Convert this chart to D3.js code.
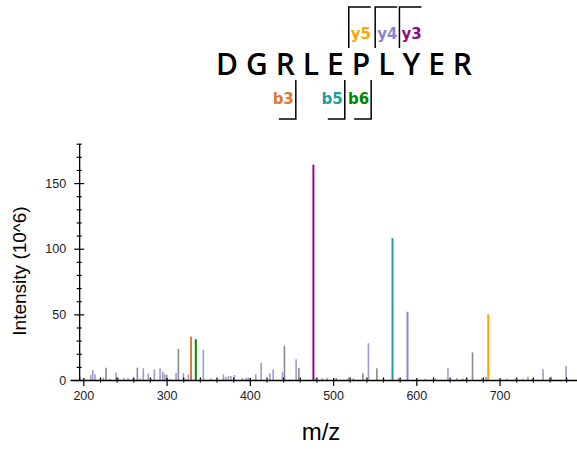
<!DOCTYPE html>
<html>
<head>
  <meta charset="utf-8">
  <script src="https://cdn.jsdelivr.net/npm/d3@7"></script>
  <style>
    body { margin: 0; background: #fff; }
    svg { display: block; }
  </style>
</head>
<body>
<script>
  // peptide and fragment annotations
  const sequence = "DGRLEPLYER";
  const fragNames = ["b3", "b5", "b6", "y5", "y4", "y3"];
  const fragCut = [3, 5, 6, 5, 6, 7];
  const fragColor = ["#dd7733", "#1f9e9e", "#008800", "#ffa500", "#8888c8", "#8b0a8b"];
  const fragMz = [329.4, 571.4, 335.1, 686.4, 589.4, 476.4];
  const fragIntensity = [33, 108, 31, 50, 52, 164];

  // unassigned peaks (m/z, intensity 10^6, kind: L = lavender, G = grey)
  const peakMz = [196, 208.9, 211.3, 214.1, 220.9, 224, 227.3, 232, 239.3, 242, 249, 253.7, 259.7,
    264.9, 268.1, 272.1, 278.1, 281.4, 285.3, 292.2, 295.4, 297.8, 300.2, 304.2, 311.4, 314.2,
    320.2, 323.4, 326.2, 344.2, 353.5, 368.3, 371.2, 374.3, 377.2, 381.5, 391.1, 395.6, 398.3,
    407.2, 413.6, 424, 428, 439.2, 441.6, 455.6, 458.9, 478.8, 486.9, 492.9, 503.7, 518.5, 524.5,
    535.8, 542.5, 552.6, 560.6, 578.6, 610.7, 622.7, 638, 648.8, 655.5, 659.6, 667.5, 678.8,
    683.7, 708.9, 718.9, 727.6, 734.1, 738.9, 752.2, 762.1, 779.8];
  const peakIntensity = [2.5, 3.8, 7.6, 4.3, 1.8, 1.8, 9.4, 1.0, 5.6, 2, 1.5, 1.5, 1.5,
    9.4, 1.2, 8.9, 5, 1.0, 8.1, 8.9, 6.4, 4.5, 3.8, 1, 5.6, 23.7,
    5.1, 1, 4.3, 22.9, 1.2, 4.3, 2.5, 3, 3, 3.8, 1.5, 1.8, 2,
    4.4, 13.2, 5.1, 8.1, 5.9, 26.2, 15.8, 9.4, 1, 1.3, 1.5, 1.5, 2, 1.3,
    5.1, 28, 8.9, 1, 1.5, 1, 1.5, 8.9, 1.5, 1.0, 1.2, 21, 1.5,
    2.3, 1, 1, 1, 2.5, 1, 8.1, 2.5, 10.7];
  const peakKind = ["L", "L", "L", "L", "L", "L", "G", "L", "L", "L", "L", "L", "L",
    "G", "L", "L", "L", "G", "L", "L", "L", "L", "G", "L", "L", "G",
    "L", "L", "L", "L", "L", "L", "L", "L", "L", "L", "L", "L", "L",
    "L", "L", "L", "L", "L", "G", "L", "G", "L", "L", "L", "G", "L", "L",
    "G", "L", "G", "L", "L", "L", "L", "L", "L", "G", "L", "G", "L",
    "L", "L", "L", "L", "L", "L", "L", "G", "L"];

  const xTicks = d3.range(200, 781, 20);
  const yTicks = d3.range(0, 181, 10);

  const w = 577;
  const h = 450;

  const svg = d3.select("body").append("svg")
    .attr("width", w)
    .attr("height", h);

  const x = d3.scaleLinear().domain([184, 793]).range([70, 577]);
  const y = d3.scaleLinear().domain([0, 180]).range([380, 143.7]);

  // peaks
  const kindColor = { L: "#9c9ccc", G: "#8a8a8a" };
  svg.append("g").selectAll("line")
    .data(peakMz)
    .join("line")
    .attr("x1", (d) => x(d)).attr("x2", (d) => x(d))
    .attr("y1", y(0))
    .attr("y2", (d, i) => y(peakIntensity[i]))
    .attr("stroke", (d, i) => kindColor[peakKind[i]])
    .attr("stroke-width", 1.6);

  svg.append("g").selectAll("line")
    .data(fragMz)
    .join("line")
    .attr("x1", (d) => x(d)).attr("x2", (d) => x(d))
    .attr("y1", y(0))
    .attr("y2", (d, i) => y(fragIntensity[i]))
    .attr("stroke", (d, i) => fragColor[i])
    .attr("stroke-width", 2);

  // x axis
  const xAxis = svg.append("g")
    .attr("transform", "translate(0," + y(0) + ")")
    .call(d3.axisBottom(x).tickValues(xTicks).tickSizeOuter(0)
      .tickFormat((d) => d % 100 === 0 ? d : ""));
  xAxis.select(".domain").attr("stroke-width", 1.3);
  xAxis.selectAll(".tick line")
    .attr("y1", (d) => d % 100 === 0 ? -2 : -2.5)
    .attr("y2", (d) => d % 100 === 0 ? 6 : 2.5)
    .attr("stroke-width", 1.2);
  xAxis.selectAll(".tick text")
    .attr("y", 11)
    .attr("font-family", "Liberation Sans, Arial, sans-serif")
    .attr("font-size", 12.5)
    .attr("fill", "#222");

  // y axis
  const yAxis = svg.append("g")
    .attr("transform", "translate(" + x(195) + ",0)")
    .call(d3.axisLeft(y).tickValues(yTicks).tickSizeOuter(0)
      .tickFormat((d) => d % 50 === 0 ? d : ""));
  yAxis.select(".domain").attr("stroke-width", 1.3);
  yAxis.selectAll(".tick line")
    .attr("x1", (d) => d % 50 === 0 ? -5 : -2.5)
    .attr("x2", (d) => d % 50 === 0 ? 5 : 2.5)
    .attr("stroke-width", 1.2);
  yAxis.selectAll(".tick text")
    .attr("x", -13)
    .attr("font-family", "Liberation Sans, Arial, sans-serif")
    .attr("font-size", 12.5)
    .attr("fill", "#222");

  // axis titles
  svg.append("text")
    .attr("transform", "translate(26,271) rotate(-90)")
    .attr("text-anchor", "middle")
    .attr("font-family", "Liberation Sans, Arial, sans-serif")
    .attr("font-size", 19)
    .text("Intensity (10^6)");

  svg.append("text")
    .attr("x", 321)
    .attr("y", 440)
    .attr("text-anchor", "middle")
    .attr("font-family", "Liberation Sans, Arial, sans-serif")
    .attr("font-size", 24)
    .text("m/z");

  // sequence
  const seq = svg.append("text")
    .attr("x", 216)
    .attr("y", 75)
    .attr("font-family", "Open Sans, sans-serif")
    .attr("font-weight", 600)
    .attr("font-size", 30)
    .attr("textLength", 256)
    .attr("lengthAdjust", "spacing")
    .text(sequence);

  const seqNode = seq.node();
  function cutX(k) {
    const a = seqNode.getEndPositionOfChar(k - 1).x;
    const b = seqNode.getStartPositionOfChar(k).x;
    return (a + b) / 2;
  }

  const frags = svg.append("g");
  fragNames.forEach(function (name, i) {
    const isB = name[0] === "b";
    const cx = cutX(fragCut[i]) + (isB ? -3 : 1);
    frags.append("path")
      .attr("d", isB
        ? "M" + cx + ",80V119H" + (cx - 17)
        : "M" + cx + ",48V7H" + (cx + 22))
      .attr("fill", "none")
      .attr("stroke", "#000")
      .attr("stroke-width", 1.5);
    frags.append("text")
      .attr("x", isB ? cx - 2 : cx + 2)
      .attr("y", isB ? 104 : 39)
      .attr("text-anchor", isB ? "end" : "start")
      .attr("font-family", "DejaVu Sans, sans-serif")
      .attr("font-weight", "bold")
      .attr("font-size", 15)
      .attr("fill", fragColor[i])
      .text(name);
  });
</script>
</body>
</html>
